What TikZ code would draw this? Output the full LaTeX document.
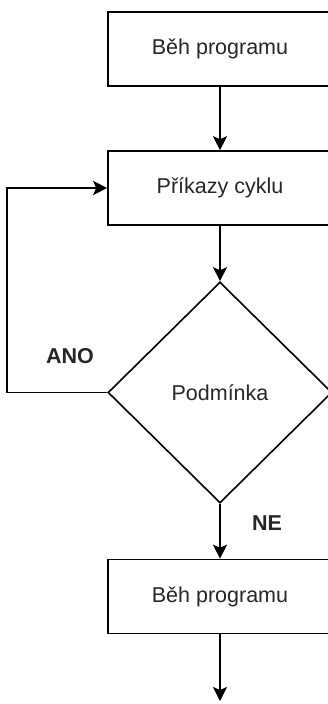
\documentclass[tikz,border=0pt]{standalone}
\usepackage{fontspec}
\setmainfont{Liberation Sans}
\usetikzlibrary{shapes.geometric,arrows.meta}

\begin{document}
\begin{tikzpicture}[x=1pt,y=-1pt,
  blok/.style={draw, line width=1.6pt, minimum width=224pt, minimum height=74pt,
    text=black!85, font=\fontsize{21.5}{26}\selectfont},
  rozhod/.style={draw, diamond, line width=1.6pt, inner sep=0pt, aspect=1,
    minimum width=224pt, minimum height=221pt,
    text=black!85, font=\fontsize{21.5}{26}\selectfont},
  sipka/.style={line width=1.6pt, -{Stealth[width=14pt,length=14pt,inset=3pt]}},
  popis/.style={text=black!85, font=\fontsize{21.5}{26}\selectfont\bfseries}]

% Frame
\clip (0,0) rectangle (328,704);

% Steps of the flowchart
\node[blok] (beh1) at (220,49) {Běh programu};
\node[blok] (cyklus) at (220,188) {Příkazy cyklu};
\node[rozhod] (podminka) at (220,392.5) {Podmínka};
\node[blok] (beh2) at (220,596.5) {Běh programu};
\coordinate (konec) at (220,701);

% Arrows down
\draw[sipka] (beh1) -- (cyklus);
\draw[sipka] (cyklus) -- (podminka);
\draw[sipka] (podminka) -- (beh2);
\draw[sipka] (beh2) -- (konec);

% Loop back to the body
\draw[sipka] (podminka.west) -- ++(-100,0) |- (cyklus.west);

% Labels
\node[popis] (ano) at (70,356) {ANO};
\node[popis] (ne) at (267,523) {NE};

\end{tikzpicture}
\end{document}
